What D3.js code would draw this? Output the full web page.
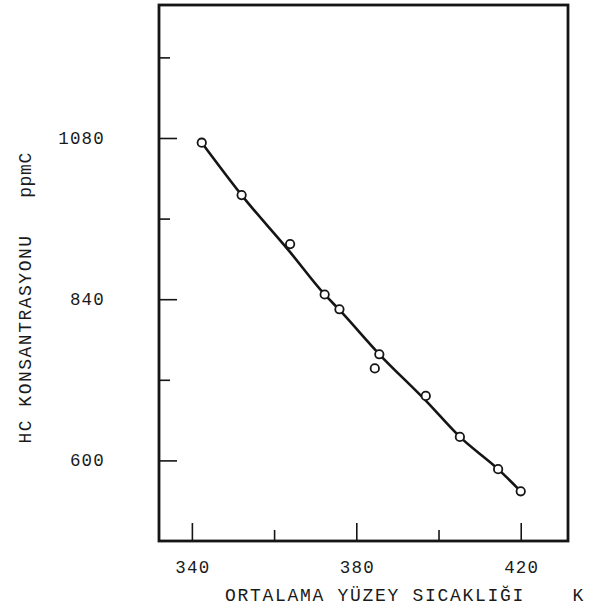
<!DOCTYPE html>
<html>
<head>
<meta charset="utf-8">
<script src="https://cdn.jsdelivr.net/npm/d3@7"></script>
<style>
  html, body { margin: 0; padding: 0; background: #fff; }
  svg { display: block; }
  text { font-family: "Liberation Mono", "DejaVu Sans Mono", monospace; fill: #1a1a1a; }
</style>
</head>
<body>
<svg id="chart" width="597" height="609"></svg>
<script>
// Measured points: mean surface temperature (K) vs HC concentration (ppmC)
const temperature = [342.4, 352.1, 363.9, 372.3, 375.9, 385.6, 384.5, 396.9, 405.2, 414.5, 420.0];
const hcConcentration = [1073, 995, 922, 847, 825, 758, 737, 696, 635, 587, 554];

// Fitted trend curve through the measurements
const curveTemperature = [342.4, 352.1, 363.9, 372.3, 375.9, 385.6, 396.9, 405.2, 414.5, 420.0];
const curveHc = [1073, 995, 910, 847, 824, 758, 689, 635, 587, 554];

// Axis ticks
const xTicks = [340, 360, 380, 400, 420];
const xLabelled = [340, 380, 420];
const yTicks = [600, 720, 840, 960, 1080, 1200];
const yLabelled = [600, 840, 1080];

const xTitle = "ORTALAMA YÜZEY SICAKLIĞI";
const xUnit = "K";
const yTitle = "HC KONSANTRASYONU";
const yUnit = "ppmC";

const svg = d3.select("#chart");
const frame = { left: 159, right: 568, top: 5, bottom: 541 };

const x = d3.scaleLinear().domain([332, 431.5]).range([frame.left, frame.right]);
const y = d3.scaleLinear().domain([480, 1278]).range([frame.bottom, frame.top]);

const ink = "#151515";

// Inward ticks on the bottom edge
const xAxis = d3.axisBottom(x)
  .tickValues(xTicks)
  .tickSize(0)
  .tickFormat("");
const gx = svg.append("g").attr("transform", `translate(0,${frame.bottom})`).call(xAxis);
gx.select(".domain").remove();
gx.selectAll(".tick line")
  .attr("y2", d => xLabelled.includes(d) ? -18 : -11)
  .attr("stroke", ink)
  .attr("stroke-width", 1.6);

// Inward ticks on the left edge
const yAxis = d3.axisLeft(y)
  .tickValues(yTicks)
  .tickSize(0)
  .tickFormat("");
const gy = svg.append("g").attr("transform", `translate(${frame.left},0)`).call(yAxis);
gy.select(".domain").remove();
gy.selectAll(".tick line")
  .attr("x2", d => yLabelled.includes(d) ? 18 : 11)
  .attr("stroke", ink)
  .attr("stroke-width", 1.6);

// Frame
svg.append("rect")
  .attr("x", frame.left)
  .attr("y", frame.top)
  .attr("width", frame.right - frame.left)
  .attr("height", frame.bottom - frame.top)
  .attr("fill", "none")
  .attr("stroke", ink)
  .attr("stroke-width", 2.8);

// Tick labels
svg.append("g").selectAll("text")
  .data(xLabelled)
  .join("text")
  .attr("x", d => x(d) + 1)
  .attr("y", 573)
  .attr("text-anchor", "middle")
  .attr("font-size", 17.5)
  .attr("letter-spacing", 1.2)
  .text(d => d);

svg.append("g").selectAll("text")
  .data(yLabelled)
  .join("text")
  .attr("x", 105)
  .attr("y", d => y(d) + 6)
  .attr("text-anchor", "end")
  .attr("font-size", 17.5)
  .attr("letter-spacing", 1.2)
  .text(d => d);

// Axis titles
svg.append("text")
  .attr("x", 375)
  .attr("y", 601)
  .attr("text-anchor", "middle")
  .attr("font-size", 18)
  .attr("letter-spacing", 1.7)
  .text(xTitle);

svg.append("text")
  .attr("x", 578)
  .attr("y", 601)
  .attr("text-anchor", "middle")
  .attr("font-size", 18)
  .text(xUnit);

svg.append("text")
  .attr("transform", "translate(31,339) rotate(-90)")
  .attr("text-anchor", "middle")
  .attr("font-size", 18)
  .attr("letter-spacing", 1.5)
  .text(yTitle);

svg.append("text")
  .attr("transform", "translate(31,175) rotate(-90)")
  .attr("text-anchor", "middle")
  .attr("font-size", 18)
  .attr("letter-spacing", 0.6)
  .text(yUnit);

// Trend curve
const curveData = curveTemperature.map((t, i) => ({ t, v: curveHc[i] }));
svg.append("path")
  .datum(curveData)
  .attr("fill", "none")
  .attr("stroke", ink)
  .attr("stroke-width", 2.6)
  .attr("stroke-linecap", "round")
  .attr("d", d3.line().x(d => x(d.t)).y(d => y(d.v)).curve(d3.curveMonotoneX));

// Measured points
const pts = temperature.map((t, i) => ({ t, v: hcConcentration[i] }));
svg.append("g").selectAll("circle")
  .data(pts)
  .join("circle")
  .attr("cx", d => x(d.t))
  .attr("cy", d => y(d.v))
  .attr("r", 4.2)
  .attr("fill", "#fff")
  .attr("stroke", ink)
  .attr("stroke-width", 1.8);
</script>
</body>
</html>
